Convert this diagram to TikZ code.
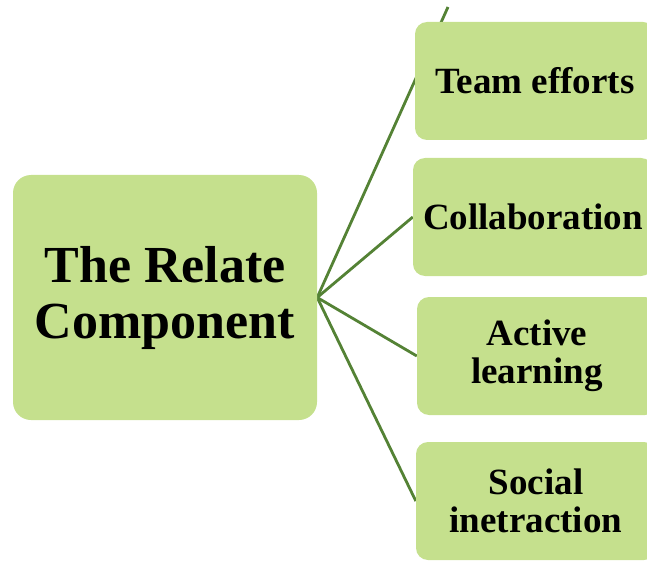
\documentclass[tikz,border=0pt]{standalone}
\usepackage{fontspec}
\setmainfont{Liberation Serif}
\usetikzlibrary{backgrounds}
\definecolor{leafgreen}{RGB}{197,224,141}
\definecolor{linkgreen}{RGB}{84,130,53}

\begin{document}
\begin{tikzpicture}[x=1pt, y=1pt,
                    hub/.style={rectangle, fill=leafgreen, rounded corners=18pt, align=center, inner sep=0pt,
                                minimum width=304pt, minimum height=245pt,
                                font=\fontsize{52}{56}\selectfont\bfseries},
                    leaf/.style={rectangle, fill=leafgreen, rounded corners=12pt, align=center, inner sep=0pt,
                                 minimum width=240pt, minimum height=118pt,
                                 font=\fontsize{37}{38}\selectfont\bfseries},
                    link/.style={draw=linkgreen, line width=2.8pt}]

\clip (0,0) rectangle (647,563);

\node [hub] (relate) at (165,265.5) {The Relate\\Component};

\node [leaf] (team) at (535,482) {Team efforts};
\node [leaf] (collab) at (533,346) {Collaboration};
\node [leaf] (active) at (537,207) {Active\\learning};
\node [leaf] (social) at (536,62) {Social\\inetraction};

\coordinate (teamtip) at (448,556);

\begin{pgfonlayer}{background}
\draw [link] (relate.east) -- (teamtip);
\draw [link] (relate.east) -- (collab.west);
\draw [link] (relate.east) -- (active.west);
\draw [link] (relate.east) -- (social.west);
\end{pgfonlayer}
\end{tikzpicture}
\end{document}
